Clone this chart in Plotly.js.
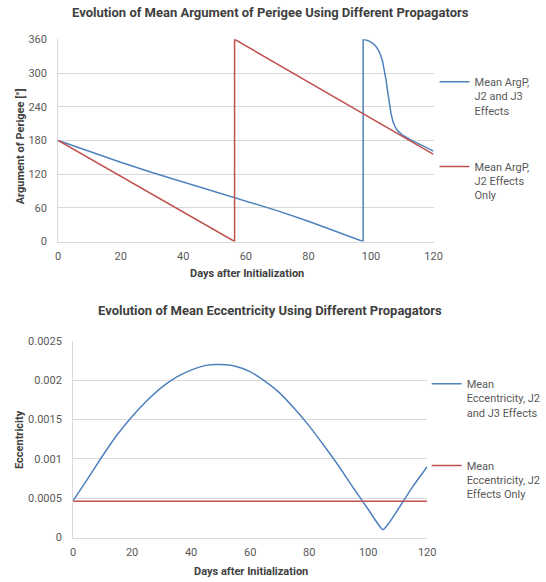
<!DOCTYPE html>
<html><head><meta charset="utf-8">
<script src="https://cdn.plot.ly/plotly-3.0.1.min.js"></script>
<style>html,body{margin:0;padding:0;background:#fff}</style></head><body>
<div id="chart" style="width:546px;height:582px"></div>
<script>
// ---- Data ----
const argpDaysJ2J3 = [0, 10, 20, 30, 40, 50, 60, 70, 80, 90, 97.5, 97.5, 99, 100.5, 101.5, 102.3, 103, 103.7, 104.3, 104.8, 105.3, 105.8, 106.4, 107, 107.8, 108.7, 110, 111.5, 113, 116, 120];
const argpJ2J3 = [180, 160, 141, 123, 106, 90, 73, 55, 36, 16, 0, 360, 358, 353, 348, 341, 333, 321, 305, 288, 268, 245, 228, 214, 203, 196, 190, 185, 180, 172, 161];
const argpDaysJ2 = [0, 56.4, 56.4, 120];
const argpJ2 = [180, 0, 360, 155];
const eccDaysJ2J3 = [0, 5, 10, 15, 20, 25, 30, 35, 40, 45, 50, 55, 60, 65, 70, 75, 80, 85, 90, 95, 100, 103, 105, 107, 110, 115, 120];
const eccJ2J3 = [0.00047, 0.00075, 0.00104, 0.00131, 0.00154, 0.00174, 0.00191, 0.00204, 0.00213, 0.00219, 0.0022, 0.00218, 0.00211, 0.00199, 0.00184, 0.00164, 0.00142, 0.00117, 0.00091, 0.00063, 0.00036, 0.00019, 0.0001, 0.00018, 0.00035, 0.00064, 0.0009];
const eccDaysJ2 = [0, 120];
const eccJ2 = [0.00046, 0.00046];
const dayTicks = [0, 20, 40, 60, 80, 100, 120];
const argpTicks = [0, 60, 120, 180, 240, 300, 360];
const eccTickVals = [0, 0.0005, 0.001, 0.0015, 0.002, 0.0025];
const eccTickText = ['0', '0.0005', '0.001', '0.0015', '0.002', '0.0025'];

const BLUE = '#4F81BD', RED = '#C0504D', GRID = '#D9D9D9', TXT = '#595959';
const FONT = 'Roboto, Arial, sans-serif';

const traces = [
  {x: argpDaysJ2J3, y: argpJ2J3, xaxis: 'x', yaxis: 'y', mode: 'lines', line: {color: BLUE, width: 1.5},
   name: 'Mean ArgP,<br>J2 and J3<br>Effects', legend: 'legend', legendgroup: 'a'},
  {x: argpDaysJ2, y: argpJ2, xaxis: 'x', yaxis: 'y', mode: 'lines', line: {color: RED, width: 1.5},
   name: 'Mean ArgP,<br>J2 Effects<br>Only', legend: 'legend', legendgroup: 'b'},
  {x: eccDaysJ2J3, y: eccJ2J3, xaxis: 'x2', yaxis: 'y2', mode: 'lines', line: {color: BLUE, width: 1.5, shape: 'spline', smoothing: 0.6},
   name: 'Mean<br>Eccentricity, J2<br>and J3 Effects', legend: 'legend2', legendgroup: 'c'},
  {x: eccDaysJ2, y: eccJ2, xaxis: 'x2', yaxis: 'y2', mode: 'lines', line: {color: RED, width: 1.5},
   name: 'Mean<br>Eccentricity, J2<br>Effects Only', legend: 'legend2', legendgroup: 'd'}
];

const W = 546, H = 582;
const px = v => v / W, py = v => (H - v) / H;
const tickFont = {family: FONT, size: 11, color: TXT};
const xBase = {range: [0, 120], tickmode: 'array', tickvals: dayTicks, showgrid: false, zeroline: false,
  showline: true, linecolor: GRID, ticks: '', tickfont: tickFont, fixedrange: true, ticklabelstandoff: 4};
const yBase = {tickmode: 'array', gridcolor: GRID, zeroline: false, showline: true, linecolor: GRID, ticks: '',
  tickfont: tickFont, fixedrange: true, ticklabelstandoff: 8};
const legBase = {font: {family: FONT, size: 11, color: TXT}, bgcolor: 'rgba(0,0,0,0)', traceorder: 'grouped',
  valign: 'top', xanchor: 'left', yanchor: 'top'};
const ann = (text, x, y, size, angle) => ({text: text, xref: 'paper', yref: 'paper', x: px(x), y: py(y),
  xanchor: 'center', yanchor: 'middle', showarrow: false, textangle: angle || 0,
  font: {family: FONT, size: size, color: '#404040'}});

const layout = {
  width: W, height: H, margin: {l: 0, r: 0, t: 0, b: 0}, paper_bgcolor: '#fff', plot_bgcolor: '#fff',
  showlegend: true,
  xaxis: Object.assign({}, xBase, {domain: [px(59), px(440)], anchor: 'y'}),
  yaxis: Object.assign({}, yBase, {domain: [py(241.5), py(39.3)], range: [0, 360], tickvals: argpTicks, anchor: 'x'}),
  xaxis2: Object.assign({}, xBase, {domain: [px(74.2), px(433.5)], anchor: 'y2'}),
  yaxis2: Object.assign({}, yBase, {domain: [py(537.5), py(341)], range: [0, 0.0025], tickvals: eccTickVals,
    ticktext: eccTickText, anchor: 'x2'}),
  legend: Object.assign({}, legBase, {x: px(441), y: py(68), tracegroupgap: 39}),
  legend2: Object.assign({}, legBase, {x: px(433), y: py(370), tracegroupgap: 36}),
  annotations: [
    ann('<b>Evolution of Mean Argument of Perigee Using Different Propagators</b>', 275, 12.6, 13),
    ann('<b>Days after Initialization</b>', 250.5, 273.6, 11),
    ann('<b>Argument of Perigee [°]</b>', 21, 146.6, 11, -90),
    ann('<b>Evolution of Mean Eccentricity Using Different Propagators</b>', 274, 310, 13),
    ann('<b>Days after Initialization</b>', 254.5, 571.7, 11),
    ann('<b>Eccentricity</b>', 19.3, 440, 11, -90)
  ]
};

Plotly.newPlot('chart', traces, layout, {displayModeBar: false, staticPlot: true});
</script></body></html>
